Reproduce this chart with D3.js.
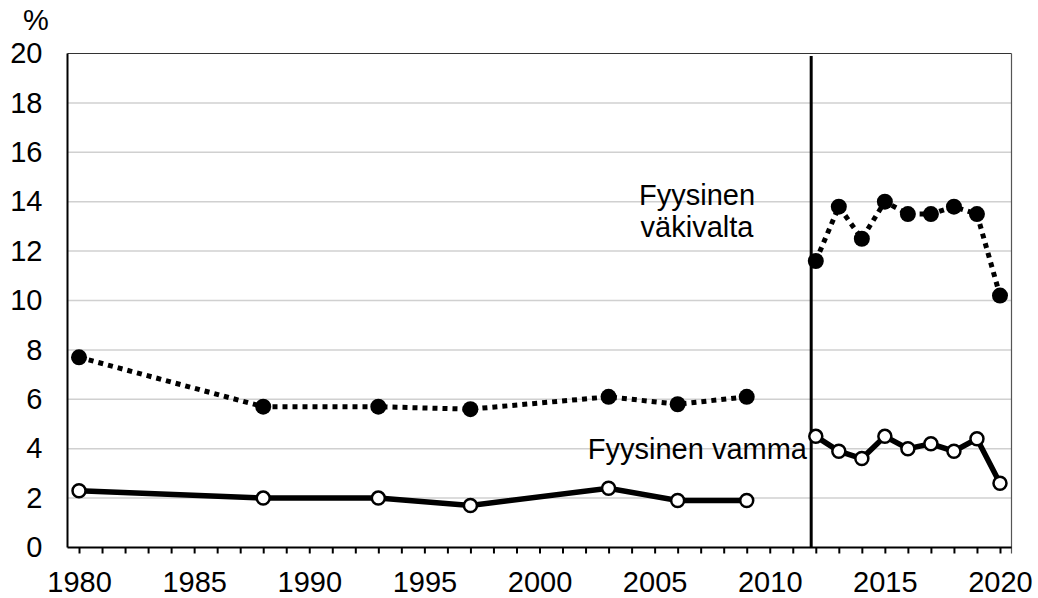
<!DOCTYPE html>
<html>
<head>
<meta charset="utf-8">
<script src="https://cdn.jsdelivr.net/npm/d3@7"></script>
<style>
  body { margin: 0; background: #fff; }
  text { font-family: "Liberation Sans", Arial, sans-serif; fill: #000; }
</style>
</head>
<body>
<svg id="chart" width="1038" height="598"></svg>
<script>
// years measured, the old survey runs to 2009, the new one starts 2012
var years = [1980, 1988, 1993, 1997, 2003, 2006, 2009, 2012, 2013, 2014, 2015, 2016, 2017, 2018, 2019, 2020];
var survey = ['old', 'old', 'old', 'old', 'old', 'old', 'old', 'new', 'new', 'new', 'new', 'new', 'new', 'new', 'new', 'new'];
// Fyysinen väkivalta (%)
var violence = [7.7, 5.7, 5.7, 5.6, 6.1, 5.8, 6.1, 11.6, 13.8, 12.5, 14.0, 13.5, 13.5, 13.8, 13.5, 10.2];
// Fyysinen vamma (%)
var injury = [2.3, 2.0, 2.0, 1.7, 2.4, 1.9, 1.9, 4.5, 3.9, 3.6, 4.5, 4.0, 4.2, 3.9, 4.4, 2.6];
var yTicks = [0, 2, 4, 6, 8, 10, 12, 14, 16, 18, 20];
var breakYear = 2011.8;

var svg = d3.select('#chart');
//note: "top" is taken by window.top, so plot edges get their own names
var plotLeft = 67.5, plotRight = 1011.5, plotTop = 53.5, plotBottom = 547.5;
var fontSize = '29px';

var x = d3.scaleLinear().domain([1979.5, 2020.5]).range([plotLeft, plotRight]);
var y = d3.scaleLinear().domain([0, 20]).range([plotBottom, plotTop]);

//gridlines
svg.append('g').selectAll('line')
  .data(yTicks.filter(function(d){ return d > 0 && d < 20; }))
  .enter().append('line')
    .attr('x1', plotLeft).attr('x2', plotRight)
    .attr('y1', function(d){ return y(d); })
    .attr('y2', function(d){ return y(d); })
    .attr('stroke', '#d0d0d0')
    .attr('stroke-width', 1.5);

//plot border top + right
svg.append('line')
  .attr('x1', plotLeft).attr('x2', plotRight).attr('y1', plotTop).attr('y2', plotTop)
  .attr('stroke', '#333').attr('stroke-width', 1);
svg.append('line')
  .attr('x1', plotRight).attr('x2', plotRight).attr('y1', plotTop).attr('y2', plotBottom + 6)
  .attr('stroke', '#555').attr('stroke-width', 1.2);

//survey break line
svg.append('line')
  .attr('x1', x(breakYear)).attr('x2', x(breakYear))
  .attr('y1', y(19.9)).attr('y2', plotBottom)
  .attr('stroke', '#000').attr('stroke-width', 3);

var rows = years.map(function(yr, i){
  return { year: yr, survey: survey[i], violence: violence[i], injury: injury[i] };
});
var groups = d3.groups(rows, function(d){ return d.survey; });

var lineFor = function(key){
  return d3.line()
    .x(function(d){ return x(d.year); })
    .y(function(d){ return y(d[key]); });
};

//lines
groups.forEach(function(g){
  svg.append('path')
    .datum(g[1])
    .attr('d', lineFor('violence'))
    .attr('fill', 'none')
    .attr('stroke', '#000')
    .attr('stroke-width', 5)
    .attr('stroke-dasharray', '5 5');
  svg.append('path')
    .datum(g[1])
    .attr('d', lineFor('injury'))
    .attr('fill', 'none')
    .attr('stroke', '#000')
    .attr('stroke-width', 5.5);
});

//markers
svg.append('g').selectAll('circle')
  .data(rows).enter().append('circle')
    .attr('cx', function(d){ return x(d.year); })
    .attr('cy', function(d){ return y(d.violence); })
    .attr('r', 8)
    .attr('fill', '#000');
svg.append('g').selectAll('circle')
  .data(rows).enter().append('circle')
    .attr('cx', function(d){ return x(d.year); })
    .attr('cy', function(d){ return y(d.injury); })
    .attr('r', 6.5)
    .attr('fill', '#fff')
    .attr('stroke', '#000')
    .attr('stroke-width', 2.5);

//axes
var allYears = d3.range(1980, 2021);
var xAxis = svg.append('g')
  .attr('transform', 'translate(0,' + plotBottom + ')')
  .call(d3.axisBottom(x)
    .tickValues(allYears)
    .tickSize(6)
    .tickPadding(18)
    .tickSizeOuter(0)
    .tickFormat(function(d){ return d % 5 === 0 ? d : ''; }));
xAxis.select('.domain').attr('stroke', '#000').attr('stroke-width', 2)
  .attr('d', 'M' + plotLeft + ',0H' + plotRight);
xAxis.selectAll('.tick line').attr('stroke', '#000').attr('stroke-width', 2);
xAxis.selectAll('text').style('font-size', fontSize).attr('font-family', null);

var yAxis = svg.append('g')
  .attr('transform', 'translate(' + plotLeft + ',0)')
  .call(d3.axisLeft(y).tickValues(yTicks).tickSize(0).tickPadding(25));
yAxis.select('.domain').attr('stroke', '#000').attr('stroke-width', 2)
  .attr('d', 'M0,' + plotTop + 'V' + plotBottom);
yAxis.selectAll('text').style('font-size', fontSize).attr('font-family', null);

svg.append('text')
  .attr('x', 36).attr('y', 30)
  .attr('text-anchor', 'middle')
  .style('font-size', fontSize)
  .text('%');

//series labels
var vLabel = svg.append('text')
  .attr('text-anchor', 'middle')
  .style('font-size', fontSize);
vLabel.append('tspan').attr('x', 697).attr('y', 205).text('Fyysinen');
vLabel.append('tspan').attr('x', 697).attr('y', 237).text('väkivalta');

svg.append('text')
  .attr('x', 807).attr('y', 459)
  .attr('text-anchor', 'end')
  .style('font-size', fontSize)
  .text('Fyysinen vamma');
</script>
</body>
</html>
